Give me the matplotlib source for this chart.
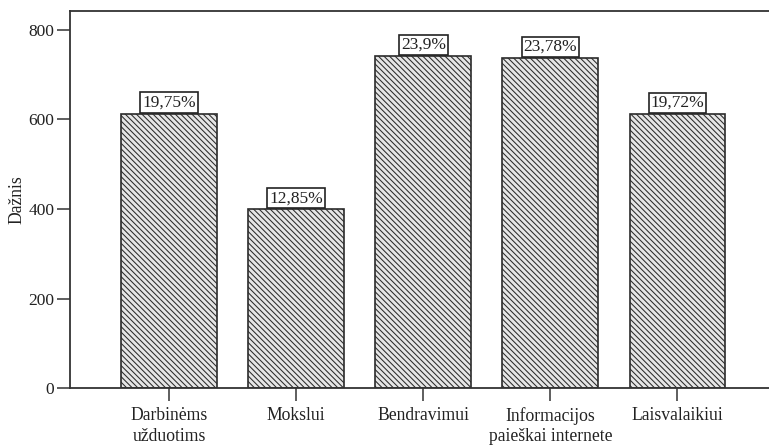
"""
Internet use purposes: frequency bar chart with percentage labels.
"""
import matplotlib
matplotlib.use("Agg")
import matplotlib.pyplot as plt

plt.rcParams["font.family"] = ["Liberation Serif", "DejaVu Serif"]
plt.rcParams["hatch.linewidth"] = 0.75
plt.rcParams["hatch.color"] = "#2b2b2b"

# Purposes and their frequencies
categories = [
    "Darbinėms\nužduotims",
    "Mokslui",
    "Bendravimui",
    "Informacijos\npaieškai internete",
    "Laisvalaikiui",
]
counts = [613, 399, 742, 738, 612]
percent_labels = ["19,75%", "12,85%", "23,9%", "23,78%", "19,72%"]
y_ticks = [0, 200, 400, 600, 800]

fig = plt.figure(figsize=(7.69, 4.45), dpi=100)
ax = fig.add_axes([0.091, 0.128, 0.909, 0.847])

x = range(len(categories))
ax.bar(
    x,
    counts,
    width=0.755,
    color="#e6e6e6",
    edgecolor="#2b2b2b",
    linewidth=1.2,
    hatch="\\" * 6,
    zorder=2,
)

# Percentage labels in boxes sitting on top of each bar
for xi, val, lab in zip(x, counts, percent_labels):
    ax.annotate(
        lab,
        xy=(xi, val),
        xytext=(0, 2.2),
        textcoords="offset points",
        ha="center",
        va="bottom",
        fontsize=12.5,
        color="#222222",
        bbox=dict(boxstyle="square,pad=0.12", facecolor="white",
                  edgecolor="#222222", linewidth=1.2),
        zorder=3,
    )

ax.set_xlim(-0.78, 4.72)
ax.set_ylim(0, 842)
ax.set_yticks(y_ticks)
ax.set_xticks(list(x))
ax.set_xticklabels(categories, fontsize=12.7, color="#222222", linespacing=1.3)
ax.tick_params(axis="y", labelsize=12.5, labelcolor="#222222")
ax.tick_params(direction="out", length=9.4, width=1.1, color="#333333", pad=2)
ax.tick_params(axis="x", pad=4)
ax.set_ylabel("Dažnis", fontsize=12.7, color="#222222", labelpad=2)

for side in ["left", "top", "bottom"]:
    ax.spines[side].set_color("#333333")
    ax.spines[side].set_linewidth(1.3)
ax.spines["right"].set_visible(False)

fig.savefig("out.png", dpi=100)
